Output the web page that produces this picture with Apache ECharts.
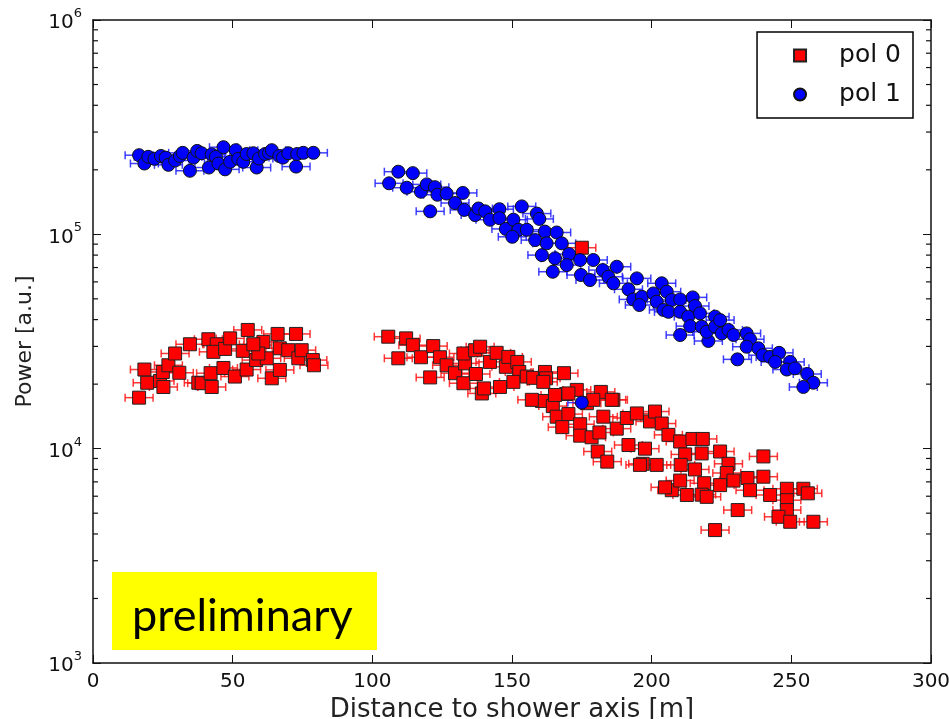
<!DOCTYPE html>
<html>
<head>
<meta charset="utf-8">
<script src="https://cdn.jsdelivr.net/npm/echarts@6/dist/echarts.min.js"></script>
<style>
html, body { margin: 0; padding: 0; background: #fff; }
#chart { width: 949px; height: 719px; }
</style>
</head>
<body>
<div id="chart"></div>
<script>
// pol 0 measurements: [distance (m), power (a.u.)]
var pol0Points = [
	[16.5, 17300], [18.4, 23400], [19.4, 20300], [24.0, 20700], [25.2, 19400], [25.0, 22800],
	[27.0, 24500], [29.4, 27800], [30.9, 22600], [34.7, 30700], [37.7, 20300], [38.9, 20200],
	[41.3, 32400], [42.1, 22500], [42.5, 19400], [44.3, 30700], [43.1, 28300], [47.3, 29200],
	[46.7, 23800], [49.1, 32700], [50.8, 21700], [53.6, 28600], [55.0, 23400], [55.4, 35800],
	[58.4, 25900], [59.0, 30400], [62.2, 26400], [64.0, 21300], [61.0, 31500], [66.1, 34300],
	[66.9, 29400], [66.9, 23300], [69.9, 28800], [72.7, 34300], [73.5, 26400], [74.7, 28800],
	[78.7, 25900], [79.1, 24500], [59.2, 27800], [57.4, 30700],
	[105.7, 33300], [112.1, 32700], [109.3, 26400], [114.5, 30400], [117.4, 26700], [120.7, 21500],
	[121.8, 30100], [124.2, 26700], [126.6, 24500], [129.6, 22500], [132.6, 20200], [133.2, 25000],
	[132.6, 27800], [136.8, 28800], [138.6, 29900], [137.1, 22300], [139.2, 18100], [140.0, 19100],
	[142.1, 25400], [144.5, 28000], [145.7, 19400], [147.8, 24100], [148.7, 26800], [151.9, 25400],
	[152.6, 22800], [150.5, 20500], [155.3, 21700], [157.6, 21400], [161.8, 22800], [162.2, 21300],
	[160.7, 16700], [157.1, 16900], [164.6, 15800], [166.0, 14100], [168.6, 22500], [169.4, 18000],
	[170.2, 14500], [168.0, 12600], [174.4, 13000], [174.4, 11500], [178.5, 11300], [181.3, 11900],
	[180.7, 9700], [184.1, 8700], [182.7, 14100], [181.8, 18400], [186.3, 16900], [187.5, 12400],
	[191.1, 13900], [191.7, 10400], [194.7, 14600], [197.6, 10000], [196.8, 8500], [199.4, 13400],
	[201.2, 14900], [176.8, 16300], [179.1, 16900], [173.2, 18800], [165.4, 17800], [161.2, 20500],
	[170.2, 18100], [185.7, 16900], [203.6, 13100], [206.0, 11600], [210.2, 10800], [214.6, 11100],
	[218.3, 11100], [212.0, 9400], [217.9, 9500], [224.5, 9700], [195.8, 8400], [201.8, 8400],
	[210.4, 8400], [215.5, 8000], [227.5, 8500], [226.9, 7700], [229.3, 7100], [224.5, 6760],
	[218.8, 6900], [212.6, 6080], [217.9, 6100], [219.7, 5960], [207.2, 6400], [204.8, 6600],
	[210.2, 7100], [234.3, 7300], [235.2, 6400], [240.0, 9200], [240.0, 7400], [242.4, 6080],
	[248.4, 6500], [254.3, 6500], [248.4, 5750], [248.4, 5170], [245.4, 4810], [249.6, 4560],
	[257.9, 4560], [255.9, 6190], [230.8, 5170], [222.7, 4170], [175.0, 86600]
];

// pol 1 measurements: [distance (m), power (a.u.)]
var pol1Points = [
	[16.5, 234000], [18.4, 214000], [19.8, 230000], [22.0, 225000], [24.3, 232000], [26.0, 228000],
	[27.0, 211000], [29.4, 221000], [31.1, 232000], [32.1, 240000], [34.7, 198000], [36.0, 228000],
	[37.3, 245000], [38.9, 239000], [41.5, 205000], [42.5, 236000], [44.0, 230000], [44.9, 214000],
	[46.7, 255000], [47.3, 201000], [49.1, 218000], [51.1, 247000], [52.0, 225000], [53.8, 218000],
	[55.0, 237000], [57.4, 239000], [58.6, 205000], [59.4, 226000], [61.6, 237000], [63.0, 240000],
	[64.0, 247000], [66.7, 232000], [68.0, 228000], [69.9, 239000], [72.7, 207000], [73.1, 237000],
	[75.3, 240000], [78.9, 240000],
	[106.0, 173000], [109.3, 196000], [114.5, 193000], [112.3, 165000], [117.4, 158000], [119.5, 171000],
	[122.4, 166000], [123.3, 153000], [126.6, 155000], [120.7, 128000], [132.4, 156000], [129.6, 140000],
	[132.9, 130000], [136.8, 123000], [138.0, 132000], [140.4, 128000], [142.1, 117000], [145.5, 131000],
	[145.5, 119000], [147.8, 106000], [150.5, 117000], [152.3, 105000], [153.5, 135000], [150.1, 97400],
	[155.3, 105000], [158.9, 125000], [159.8, 118000], [158.3, 94000], [161.8, 103000], [160.7, 80000],
	[162.4, 90800], [166.0, 102000], [167.8, 90800], [165.4, 77300], [164.6, 66900], [170.4, 80900],
	[169.6, 71900], [174.4, 75900], [174.7, 64600], [179.1, 75900], [177.9, 61200],
	[182.5, 68100], [187.5, 70600], [184.5, 63400], [186.3, 59100], [191.7, 55400], [194.7, 62300],
	[193.4, 49700], [196.5, 51100], [195.6, 46800], [200.6, 53000], [203.6, 59100], [201.8, 48500],
	[205.4, 54000], [204.2, 44400], [207.2, 49400], [206.0, 43500], [210.2, 49700], [210.2, 43500],
	[214.7, 50800], [215.5, 46300], [213.1, 41300], [210.2, 33900], [213.8, 37300], [217.3, 42800],
	[217.9, 37100], [220.3, 31800], [219.7, 35100], [222.7, 41300], [222.7, 37100], [224.5, 39800],
	[225.1, 34500], [227.5, 35800], [229.3, 33900], [230.7, 26100], [234.0, 34500], [235.2, 32400],
	[234.0, 29900], [238.2, 29400], [239.8, 27300], [242.4, 26800], [245.6, 28000], [244.2, 25400],
	[249.6, 25400], [248.4, 23400], [251.3, 23700], [255.7, 22300], [257.9, 20300], [254.3, 19400],
	[175.0, 16400]
];

// horizontal error (m) on each point
var xErr = 5;

// minor tick values for the log axis
var yDecades = [1000, 10000, 100000];
var minorMults = [2, 3, 4, 5, 6, 7, 8, 9];

var minorTickData = [];
yDecades.forEach(function (dec) {
	minorMults.forEach(function (m) {
		minorTickData.push([150, dec * m]);
	});
});

function withErr(points) {
	return points.map(function (p) { return [p[0], p[1], xErr]; });
}

// horizontal error bar with caps
function errorBar(color) {
	return function (params, api) {
		var x = api.value(0), y = api.value(1), e = api.value(2);
		var l = api.coord([x - e, y]);
		var r = api.coord([x + e, y]);
		var cap = 4;
		var style = { stroke: color, lineWidth: 1.5 };
		return {
			type: 'group',
			children: [
				{ type: 'line', shape: { x1: l[0], y1: l[1], x2: r[0], y2: r[1] }, style: style },
				{ type: 'line', shape: { x1: l[0], y1: l[1] - cap, x2: l[0], y2: l[1] + cap }, style: style },
				{ type: 'line', shape: { x1: r[0], y1: r[1] - cap, x2: r[0], y2: r[1] + cap }, style: style }
			]
		};
	};
}

var myChart = echarts.init(document.getElementById('chart'));
var axisFont = 'DejaVu Sans';
var option = {
	animation: false,
	backgroundColor: '#fff',
	grid: { left: 93, right: 18, top: 20, bottom: 56, outerBoundsMode: 'none', containLabel: false },
	legend: {
		data: [{ name: 'pol 0', icon: 'rect' }, { name: 'pol 1', icon: 'circle' }],
		orient: 'vertical',
		right: 36,
		top: 32,
		borderColor: '#000',
		borderWidth: 1.5,
		borderRadius: 0,
		padding: [11, 12, 11, 36],
		itemWidth: 12,
		itemHeight: 12,
		itemGap: 14,
		textStyle: { fontSize: 25, fontFamily: axisFont, color: '#111', padding: [0, 0, 0, 28] }
	},
	xAxis: [{
		type: 'value',
		min: 0,
		max: 300,
		interval: 50,
		name: 'Distance to shower axis [m]',
		nameLocation: 'middle',
		nameGap: 27,
		nameTextStyle: { fontSize: 26, fontFamily: axisFont, color: '#222' },
		axisLine: { onZero: false, lineStyle: { color: '#111', width: 1.5 } },
		axisTick: { inside: true, length: 8, lineStyle: { color: '#111' } },
		axisLabel: { fontSize: 20, fontFamily: axisFont, color: '#111', margin: 9 },
		splitLine: { show: false }
	}, {
		type: 'value',
		position: 'top',
		min: 0,
		max: 300,
		interval: 50,
		axisLine: { onZero: false, lineStyle: { color: '#111', width: 1.5 } },
		axisTick: { inside: true, length: 8, lineStyle: { color: '#111' } },
		axisLabel: { show: false },
		splitLine: { show: false }
	}],
	yAxis: [{
		type: 'log',
		logBase: 10,
		min: 1000,
		max: 1000000,
		name: 'Power [a.u.]',
		nameLocation: 'middle',
		nameGap: 57,
		nameTextStyle: { fontSize: 22, fontFamily: axisFont, color: '#222' },
		axisLine: { onZero: false, lineStyle: { color: '#111', width: 1.5 } },
		axisTick: { inside: true, length: 8, lineStyle: { color: '#111' } },
		axisLabel: {
			margin: 11,
			formatter: function (v) {
				var exp = Math.round(Math.log(v) / Math.LN10);
				return '{b|10}{s|' + exp + '}';
			},
			rich: {
				b: { fontSize: 20, fontFamily: axisFont, color: '#111', lineHeight: 26, verticalAlign: 'bottom' },
				s: { fontSize: 13, fontFamily: axisFont, color: '#111', lineHeight: 26, verticalAlign: 'top' }
			}
		},
		splitLine: { show: false }
	}, {
		type: 'log',
		logBase: 10,
		position: 'right',
		min: 1000,
		max: 1000000,
		axisLine: { onZero: false, lineStyle: { color: '#111', width: 1.5 } },
		axisTick: { inside: true, length: 8, lineStyle: { color: '#111' } },
		axisLabel: { show: false },
		splitLine: { show: false }
	}],
	graphic: [{
		type: 'rect',
		left: 112,
		top: 572,
		shape: { width: 265, height: 78 },
		style: { fill: '#ffff00' },
		z: 100
	}, {
		type: 'text',
		left: 132,
		top: 594,
		style: { text: 'preliminary', fontSize: 45, fontFamily: 'Lato', fill: '#000' },
		z: 101
	}],
	series: [{
		// log minor ticks on left and right
		name: 'minor',
		type: 'custom',
		silent: true,
		clip: false,
		z: 10,
		data: minorTickData,
		renderItem: function (params, api) {
			var v = api.value(1);
			var a = api.coord([0, v]);
			var b = api.coord([300, v]);
			var st = { stroke: '#111', lineWidth: 1.2 };
			return {
				type: 'group',
				children: [
					{ type: 'line', shape: { x1: a[0], y1: a[1], x2: a[0] + 5, y2: a[1] }, style: st },
					{ type: 'line', shape: { x1: b[0] - 5, y1: b[1], x2: b[0], y2: b[1] }, style: st }
				]
			};
		}
	}, {
		name: 'pol 0 err',
		type: 'custom',
		silent: true,
		data: withErr(pol0Points),
		renderItem: errorBar('rgba(255,20,20,0.85)')
	}, {
		name: 'pol 0',
		type: 'scatter',
		symbol: 'rect',
		symbolSize: 13,
		data: pol0Points,
		itemStyle: { color: '#ff0000', borderColor: '#222', borderWidth: 1, opacity: 1 }
	}, {
		name: 'pol 1 err',
		type: 'custom',
		silent: true,
		data: withErr(pol1Points),
		renderItem: errorBar('rgba(30,30,255,0.85)')
	}, {
		name: 'pol 1',
		type: 'scatter',
		symbol: 'circle',
		symbolSize: 13,
		data: pol1Points,
		itemStyle: { color: '#0000ff', borderColor: '#111', borderWidth: 1, opacity: 1 }
	}]
};
myChart.setOption(option);
window.addEventListener('resize', function () {
	myChart.resize();
});
</script>
</body>
</html>
